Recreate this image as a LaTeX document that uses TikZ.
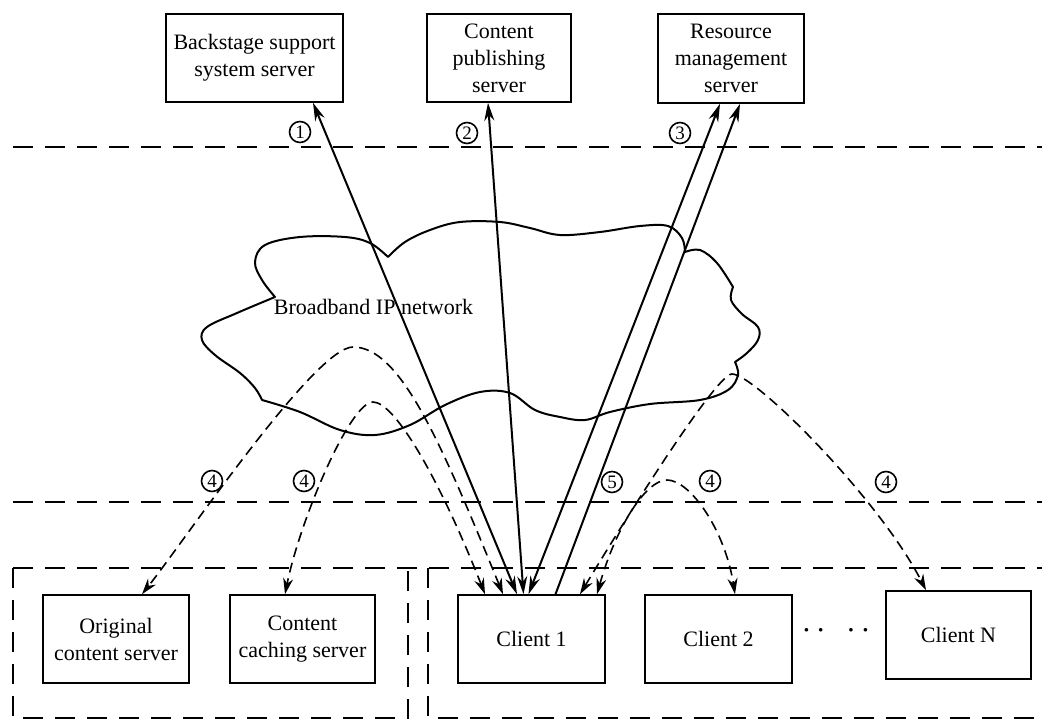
\documentclass[tikz,border=0pt]{standalone}
\usepackage{fontspec}
\setmainfont{Liberation Serif}
\usepackage{tikz}
\usetikzlibrary{arrows.meta}
\tikzstyle{boite} = [draw,line width=1.6pt,minimum width=146pt,minimum height=88pt,inner sep=0pt,align=center,font=\fontsize{22}{27}\selectfont]
\tikzstyle{allerretour} = [<->,>={Stealth[length=18pt,width=10pt]},line width=2pt]
\tikzstyle{aller} = [->,>={Stealth[length=18pt,width=10pt]},line width=2pt]
\tikzstyle{diffusion} = [<->,>={Stealth[length=16pt,width=10pt]},line width=1.6pt,dash pattern=on 10pt off 6pt]
\tikzstyle{zone} = [line width=1.6pt,dash pattern=on 20pt off 12pt]
\tikzstyle{nuage} = [line width=2pt,line cap=round,line join=round]
\tikzstyle{etape} = [draw,circle,line width=1.6pt,minimum size=21pt,inner sep=0pt,font=\fontsize{19}{19}\selectfont]

\begin{document}
\begin{tikzpicture}[x=1pt,y=-1pt]
	\useasboundingbox (0,0) rectangle (1042,720);

	% serveurs du haut
	\node[boite,minimum width=177pt] (backstage) at (254.5,58) {Backstage support\\system server};
	\node[boite,minimum width=144pt] (publication) at (499,58) {Content\\publishing\\server};
	\node[boite,minimum height=89pt] (ressource) at (731,58.5) {Resource\\management\\server};

	% serveurs et clients du bas
	\node[boite] (origine) at (116,639) {Original\\content server};
	\node[boite,minimum width=145pt] (cache) at (302.5,639) {Content\\caching server};
	\node[boite,minimum width=147pt] (client1) at (531.5,639) {Client 1};
	\node[boite,minimum width=147pt] (client2) at (718.5,639) {Client 2};
	\node[boite,minimum width=145pt] (clientN) at (958.5,635) {Client N};
	\node[font=\fontsize{22}{27}\selectfont\bfseries] (points) at (836,633) {·\hspace{7pt}·\hspace{23pt}·\hspace{7pt}·};

	% limites
	\draw[zone] (13,147) -- (1042,147);
	\draw[zone] (13,502) -- (1042,502);
	\draw[zone] (13,568) -- (1042,568);
	\draw[zone] (13,568) -- (13,718) -- (408,718) -- (408,568);
	\draw[zone] (428,568) -- (428,718) -- (1042,718);

	% reseau
	\draw[nuage] plot[smooth,tension=0.6] coordinates {(388,257) (370,243) (345,237) (300,237) (265,245) (255,262) (262,280) (275,297)}
		plot[smooth,tension=0.6] coordinates {(275,297) (237,313) (207,327) (202,340) (215,355) (240,373) (255,388) (262,400)}
		plot[smooth,tension=0.6] coordinates {(262,400) (300,412) (340,430) (375,435) (410,425) (445,405) (480,392) (510,393) (535,410) (560,417) (585,420) (610,412) (650,404) (700,400) (728,390) (738,375) (735,362)}
		plot[smooth,tension=0.6] coordinates {(735,362) (747,353) (758,340) (758,327) (742,314) (731,300) (733,287)}
		plot[smooth,tension=0.6] coordinates {(733,287) (717,263) (700,250) (685,252)}
		plot[smooth,tension=0.6] coordinates {(685,252) (682,238) (668,226) (640,226) (600,232) (560,235) (530,228) (500,222) (460,222) (430,230) (405,242) (388,257)};
	\node (reseau) at (373.5,307) {\fontsize{22}{27}\selectfont Broadband IP network};

	% liaisons client 1
	\draw[allerretour] ([xshift=-14.5pt]client1.north) -- ([xshift=58.5pt]backstage.south);
	\draw[allerretour] ([xshift=-8pt]client1.north) -- ([xshift=-11pt]publication.south);
	\draw[allerretour] ([xshift=-3pt]client1.north) -- ([xshift=-11pt]ressource.south);
	\draw[aller] ([xshift=24pt]client1.north) -- ([xshift=9pt]ressource.south);

	% distribution
	\draw[diffusion] ([xshift=-28.5pt]client1.north) .. controls (440,440) and (400,347) .. (353,347)
		.. controls (315,347) and (185,540) .. ([xshift=26pt]origine.north);
	\draw[diffusion] ([xshift=-46.5pt]client1.north) .. controls (440,480) and (395,402) .. (373,402)
		.. controls (350,402) and (300,520) .. ([xshift=-17.5pt]cache.north);
	\draw[diffusion] ([xshift=48.5pt]client1.north) .. controls (643,490) and (718,374) .. (732,374)
		.. controls (755,374) and (880,500) .. ([xshift=-32.5pt]clientN.north);
	\draw[diffusion] ([xshift=65.5pt]client1.north) .. controls (615,530) and (645,480) .. (667,480)
		.. controls (690,480) and (725,530) .. ([xshift=16.5pt]client2.north);

	% etapes
	\node[etape] (e1) at (300,132) {1};
	\node[etape] (e2) at (467,133) {2};
	\node[etape] (e3) at (680,133) {3};
	\node[etape] (e4a) at (212,481) {4};
	\node[etape] (e4b) at (304,481) {4};
	\node[etape] (e5) at (612,482) {5};
	\node[etape] (e4c) at (710,481) {4};
	\node[etape] (e4d) at (886,482) {4};
\end{tikzpicture}
\end{document}
